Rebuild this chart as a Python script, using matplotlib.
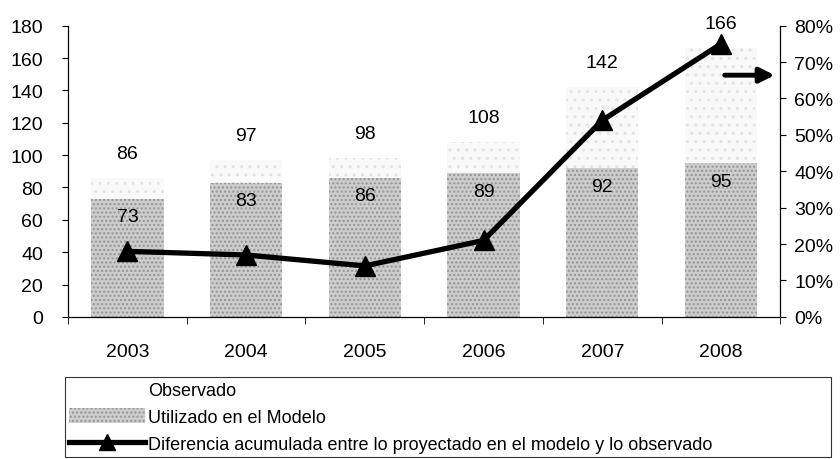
import numpy as np
import matplotlib
matplotlib.use("Agg")
import matplotlib.pyplot as plt
from matplotlib.lines import Line2D
from matplotlib.patches import Patch

plt.rcParams['font.family'] = ['Liberation Sans', 'DejaVu Sans']
plt.rcParams['hatch.linewidth'] = 1.0

anios = ['2003', '2004', '2005', '2006', '2007', '2008']
observado = [86, 97, 98, 108, 142, 166]
modelo = [73, 83, 86, 89, 92, 95]
diferencia = [0.18, 0.17, 0.14, 0.21, 0.54, 0.75]

fig = plt.figure(figsize=(8.4, 4.6), dpi=100)
ax = fig.add_axes([0.081, 0.309, 0.848, 0.633])
x = np.arange(len(anios))

ax.bar(x, observado, width=0.61, color='#f9f9f9', edgecolor='#e4e4e4',
       hatch='..', linewidth=0, zorder=1)
ax.bar(x, modelo, width=0.61, color='#cdcdcd', edgecolor='#939393',
       hatch='....', linewidth=0, zorder=2)

for i in range(len(anios)):
    ax.text(x[i], observado[i] + 10, str(observado[i]), ha='center', va='bottom',
            fontsize=14)
    ax.text(x[i], modelo[i] - 6, str(modelo[i]), ha='center', va='top',
            fontsize=14, zorder=3)

ax.set_xlim(-0.5, len(anios) - 0.5)
ax.set_ylim(0, 180)
ax.set_yticks(range(0, 181, 20))
ax.set_xticks(x)
ax.set_xticklabels(anios)
ax.set_xticks(np.arange(-0.5, len(anios), 1), minor=True)
ax.tick_params(axis='x', which='major', length=0, pad=19, labelsize=14)
ax.tick_params(axis='x', which='minor', length=5, direction='out')
ax.tick_params(axis='y', length=4, labelsize=14, pad=14)
ax.spines['top'].set_visible(False)

ax2 = ax.twinx()
ax2.plot(x, diferencia, color='black', linewidth=3.8, marker='^', markersize=15,
         zorder=5)
ax2.set_ylim(0, 0.8)
ax2.set_yticks(np.arange(0, 0.81, 0.1))
ax2.set_yticklabels([f'{int(round(v * 100))}%' for v in np.arange(0, 0.81, 0.1)])
ax2.tick_params(axis='y', length=4, labelsize=14, pad=6)
ax2.spines['top'].set_visible(False)

ax2.annotate('', xy=(0.996, 0.83), xytext=(0.918, 0.83), xycoords='axes fraction',
             arrowprops=dict(arrowstyle='-|>', color='black', lw=3.5,
                             mutation_scale=22))

handles = [
    Patch(facecolor='white', edgecolor='none'),
    Patch(facecolor='#cdcdcd', edgecolor='#939393', hatch='....', linewidth=0),
    Line2D([0], [0], color='black', linewidth=3.8, marker='^', markersize=11),
]
labels = ['Observado', 'Utilizado en el Modelo',
          'Diferencia acumulada entre lo proyectado en el modelo y lo observado']
leg = fig.legend(handles, labels, loc='upper left',
                 bbox_to_anchor=(0.077, 0.0, 0.912, 0.178), mode='expand',
                 fontsize=13, frameon=True, fancybox=False, edgecolor='black',
                 handlelength=4.2, handleheight=0.9, handletextpad=0.15,
                 labelspacing=0.5, borderpad=0.25, borderaxespad=0)
leg.get_frame().set_linewidth(0.8)

fig.savefig('out.png', dpi=100)
